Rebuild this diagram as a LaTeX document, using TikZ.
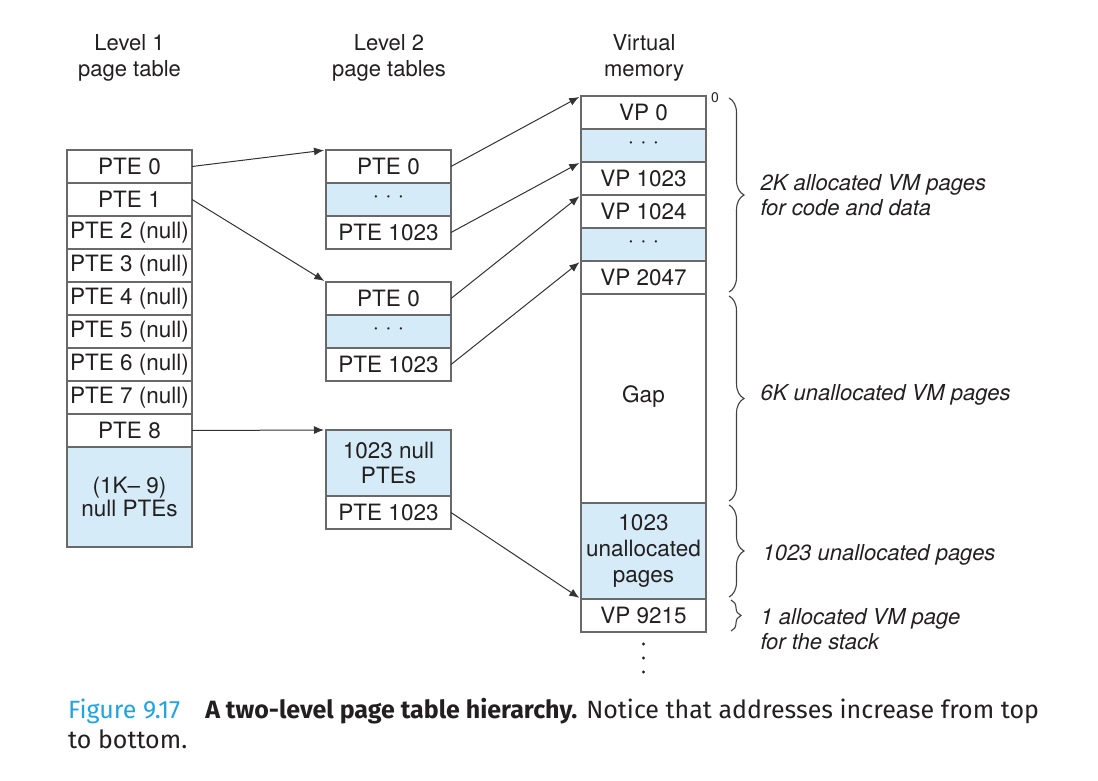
\documentclass[tikz,border=0pt]{standalone}
\usepackage{fontspec}
\setmainfont{TeX Gyre Heros}
\newfontfamily\capfont{Fira Sans}
\usetikzlibrary{arrows.meta,decorations.pathreplacing,positioning}
\definecolor{cellblue}{RGB}{213,236,248}
\definecolor{figcyan}{RGB}{30,165,225}
\definecolor{inkgray}{RGB}{35,31,32}
\definecolor{rulegray}{RGB}{105,105,105}

\begin{document}
\begin{tikzpicture}[x=1pt,y=-1pt]
\tikzset{cell/.style = {draw=rulegray, line width=1.1pt, minimum width=125pt, minimum height=33pt, inner sep=0pt, outer sep=0pt, anchor=north west, align=center, text=inkgray, font=\fontsize{22.5}{25}\selectfont},
  blank/.style = {cell, fill=cellblue},
  ptr/.style = {-{Latex[length=10pt,width=8pt]}, line width=1pt, draw=black!80, shorten >=2pt},
  head/.style = {align=center, text=inkgray, font=\fontsize{22}{26}\selectfont},
  note/.style = {anchor=west, align=left, text=inkgray, font=\fontsize{22}{25}\selectfont\itshape},
  brace/.style = {decorate, decoration={brace, amplitude=15pt}, line width=1.1pt, draw=black!75},
  capline/.style = {anchor=base west, inner sep=0pt, text=inkgray, font=\capfont\fontsize{25}{30}\selectfont}}
\def\skipdots{· · ·}
\useasboundingbox (0,0) rectangle (1098,781);

% column headings
\node[head] (hdone) at (129.5,58) {Level 1\\page table};
\node[head] (hdtwo) at (389,58) {Level 2\\page tables};
\node[head] (hdvm) at (644,58) {Virtual\\memory};

% level 1 table
\foreach \lbl [count=\i from 0] in {PTE 0,PTE 1,PTE 2 (null),PTE 3 (null),PTE 4 (null),PTE 5 (null),PTE 6 (null),PTE 7 (null),PTE 8}
  \node[cell] (pte\i) at (67,150+33*\i) {\lbl};
\node[blank, minimum height=100pt, font=\fontsize{22.5}{23}\selectfont] (pterest) at (67,447) {(1K– 9)\\null PTEs};

% level 2 tables
\foreach \t/\yy in {ta/150,tb/282} {
  \node[cell] (\t0) at (326,\yy) {PTE 0};
  \node[blank] (\t1) at (326,\yy+33) {\skipdots};
  \node[cell] (\t2) at (326,\yy+66) {PTE 1023};
}
\node[blank, minimum height=66pt] (tc0) at (326,430) {1023 null\\PTEs};
\node[cell] (tc1) at (326,496) {PTE 1023};

% virtual memory
\node[cell] (vp0) at (581,96) {VP 0};
\node[blank] (vp1) at (581,129) {\skipdots};
\node[cell] (vp2) at (581,162) {VP 1023};
\node[cell] (vp3) at (581,195) {VP 1024};
\node[blank] (vp4) at (581,228) {\skipdots};
\node[cell] (vp5) at (581,261) {VP 2047};
\node[cell, minimum height=209pt, text depth=8pt] (vgap) at (581,294) {Gap};
\node[blank, minimum height=96pt, font=\fontsize{22.5}{26}\selectfont] (vp7) at (581,503) {1023\\unallocated\\pages};
\node[cell] (vp8) at (581,599) {VP 9215};
\node[anchor=west, inner sep=0pt, text=inkgray, font=\fontsize{14}{14}\selectfont] (zero) at (711,98) {0};
\foreach \k in {0,1,2}
  \fill[inkgray] (vp8.south) ++(0,12+14*\k) circle (1.6pt);

% pointers
\draw[ptr] (pte0.east) -- (ta0.north west);
\draw[ptr] (pte1.east) -- (tb0.north west);
\draw[ptr] (pte8.east) -- (tc0.north west);
\draw[ptr] (ta0.east) -- (vp0.north west);
\draw[ptr] (ta2.east) -- (vp2.north west);
\draw[ptr] (tb0.east) -- (vp3.north west);
\draw[ptr] (tb2.east) -- (vp5.north west);
\draw[ptr] (tc1.east) -- (vp8.north west);

% braces and notes
\draw[brace] ([xshift=23pt,yshift=-2pt]vp0.north east) -- ([xshift=23pt,yshift=2pt]vp5.south east);
\draw[brace] ([xshift=23pt,yshift=-2pt]vgap.north east) -- ([xshift=23pt,yshift=2pt]vgap.south east);
\draw[brace] ([xshift=23pt,yshift=-2pt]vp7.north east) -- ([xshift=23pt,yshift=2pt]vp7.south east);
\draw[brace, decoration={amplitude=10pt}] ([xshift=25pt,yshift=-1pt]vp8.north east) -- ([xshift=25pt,yshift=1pt]vp8.south east);
\node[note] (nalloc) at (757,195) {2K allocated VM pages\\for code and data};
\node[note] (ngap) at (757,395) {6K unallocated VM pages};
\node[note] (nunal) at (759,555) {1023 unallocated pages};
\node[note] (nstack) at (757,629) {1 allocated VM page\\for the stack};

% caption
\node[capline] (cap) at (68,718) {\textcolor{figcyan}{Figure 9.17}\hspace{1em}\textbf{A two-level page table hierarchy.} Notice that addresses increase from top};
\node[capline] (capb) at ([yshift=-30pt]cap.base west) {to bottom.};
\end{tikzpicture}
\end{document}
